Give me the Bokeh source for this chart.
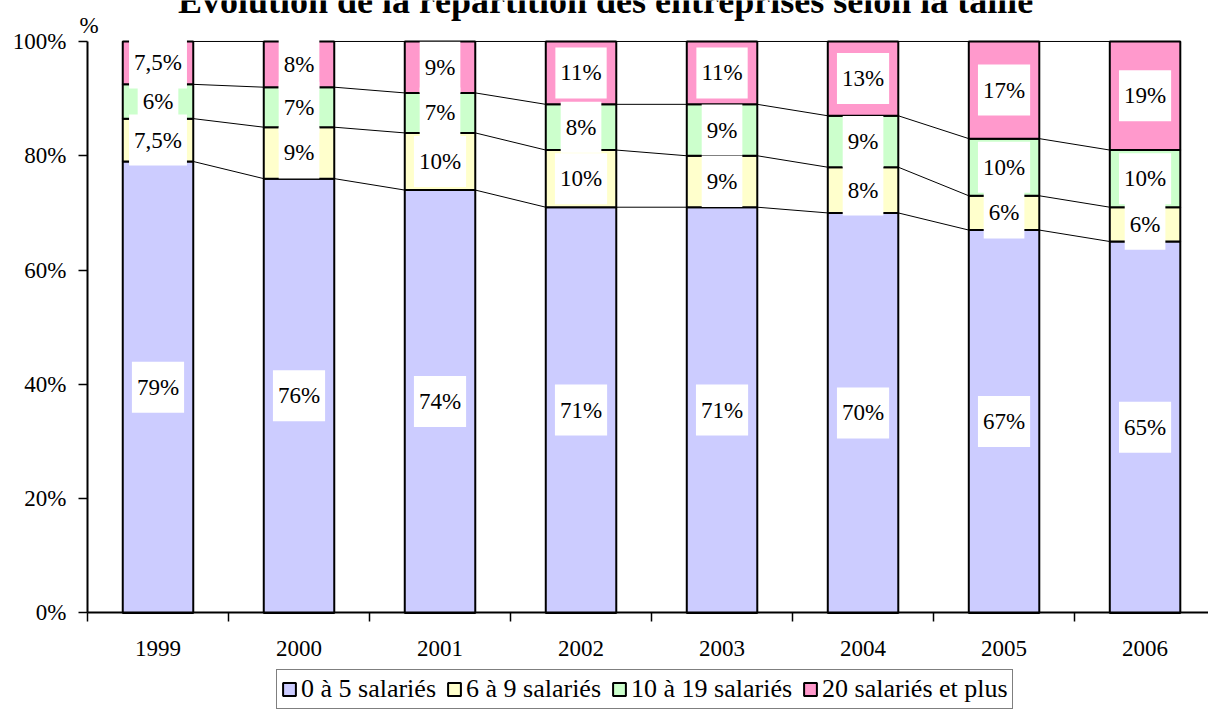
import numpy as np
from bokeh.plotting import figure
from bokeh.models import Range1d, FixedTicker, PrintfTickFormatter, Label, Legend, LegendItem
from bokeh.core.properties import value
from bokeh.embed import file_html
from bokeh.resources import INLINE

# ---- data ----
years = ["1999", "2000", "2001", "2002", "2003", "2004", "2005", "2006"]
s_0_5 = [79, 76, 74, 71, 71, 70, 67, 65]
s_6_9 = [7.5, 9, 10, 10, 9, 8, 6, 6]
s_10_19 = [6, 7, 7, 8, 9, 9, 10, 10]
s_20_plus = [7.5, 8, 9, 11, 11, 13, 17, 19]
series_names = ["0 à 5 salariés", "6 à 9 salariés", "10 à 19 salariés", "20 salariés et plus"]
y_ticks = [0, 20, 40, 60, 80, 100]
title_text = "Évolution de la répartition des entreprises selon la taille"
y_unit = "%"

# ---- styles ----
colors = ["#CCCCFF", "#FFFFCC", "#CCFFCC", "#FF99CC"]
FONT = "Liberation Serif"
BAR_W = 0.5


def fmt(v):
    return ("%g" % v).replace(".", ",") + "%"


p = figure(width=1208, height=709, output_backend="svg", toolbar_location=None,
           x_range=Range1d(-1.117, 7.45), y_range=Range1d(-16.89, 107.17),
           min_border_left=0, min_border_right=0, min_border_top=0, min_border_bottom=0,
           background_fill_color="white", border_fill_color="white")
p.outline_line_color = None
p.xgrid.visible = False
p.ygrid.visible = False

x = np.arange(len(years))
series = [s_0_5, s_6_9, s_10_19, s_20_plus]
bottom = np.zeros(len(years))
renderers = []
lab_x, lab_y, lab_t = [], [], []
for vals, col, name in zip(series, colors, series_names):
    v = np.array(vals, dtype=float)
    top = bottom + v
    p.segment(x0=x[:-1] + BAR_W / 2, y0=top[:-1], x1=x[1:] - BAR_W / 2, y1=top[1:],
              line_color="black", line_width=1)
    r = p.vbar(x=x, bottom=bottom, top=top, width=BAR_W, fill_color=col,
               line_color="black", line_width=2)
    renderers.append((name, r))
    lab_x += list(x)
    lab_y += list(bottom + v / 2)
    lab_t += [fmt(a) for a in vals]
    bottom = top

p.text(x=lab_x, y=lab_y, text=lab_t, text_align="center", text_baseline="middle",
       text_font=value(FONT), text_font_size="23px", text_color="black",
       background_fill_color="white",
       padding=dict(left=5, right=5, top=13, bottom=13))

# x axis, drawn at y = 0 inside the frame
xa = p.xaxis[0]
xa.fixed_location = 0
xa.bounds = (-0.5, len(years) - 0.5)
xa.ticker = FixedTicker(ticks=list(x), minor_ticks=list(x - 0.5) + [x[-1] + 0.5])
xa.major_label_overrides = {int(i): yv for i, yv in zip(x, years)}
xa.major_tick_out = 0
xa.major_tick_in = 0
xa.major_tick_line_color = None
xa.minor_tick_out = 9
xa.minor_tick_in = 0
xa.minor_tick_line_color = "black"
xa.minor_tick_line_width = 1.5
xa.major_label_standoff = 19
xa.axis_line_color = "black"
xa.axis_line_width = 2
xa.major_label_text_font = FONT
xa.major_label_text_font_size = "23px"
xa.major_label_text_color = "black"

# y axis, drawn at the left edge of the first category slot
ya = p.yaxis[0]
ya.fixed_location = -0.5
ya.ticker = FixedTicker(ticks=y_ticks, minor_ticks=[])
ya.formatter = PrintfTickFormatter(format="%d%%")
ya.bounds = (0, 100)
ya.major_tick_out = 9
ya.major_tick_in = 0
ya.major_tick_line_color = "black"
ya.major_tick_line_width = 1.5
ya.minor_tick_out = 0
ya.minor_tick_in = 0
ya.major_label_standoff = 12
ya.axis_line_color = "black"
ya.axis_line_width = 2
ya.major_label_text_font = FONT
ya.major_label_text_font_size = "23px"
ya.major_label_text_color = "black"

# unit label above y axis
p.add_layout(Label(x=-0.489, y=102.8, text=y_unit, text_align="center", text_baseline="middle",
                   text_font=FONT, text_font_size="23px", text_color="black"))

# title (partly cut at top as in reference)
p.add_layout(Label(x=3.174, y=107.0, text=title_text, text_align="center",
                   text_baseline="alphabetic", text_font=FONT, text_font_size="36px",
                   text_font_style="bold", text_color="black"))

legend = Legend(items=[LegendItem(label=n, renderers=[r]) for n, r in renderers],
                orientation="horizontal", location=(276, 0),
                label_text_font=FONT, label_text_font_size="26px", label_text_color="black",
                glyph_width=16, glyph_height=16, label_standoff=4, spacing=10,
                padding=4, margin=0, label_height=28,
                border_line_color="black", border_line_width=1.5,
                background_fill_color="white", background_fill_alpha=1)
p.add_layout(legend)

open("out.html", "w").write(file_html(p, INLINE))
